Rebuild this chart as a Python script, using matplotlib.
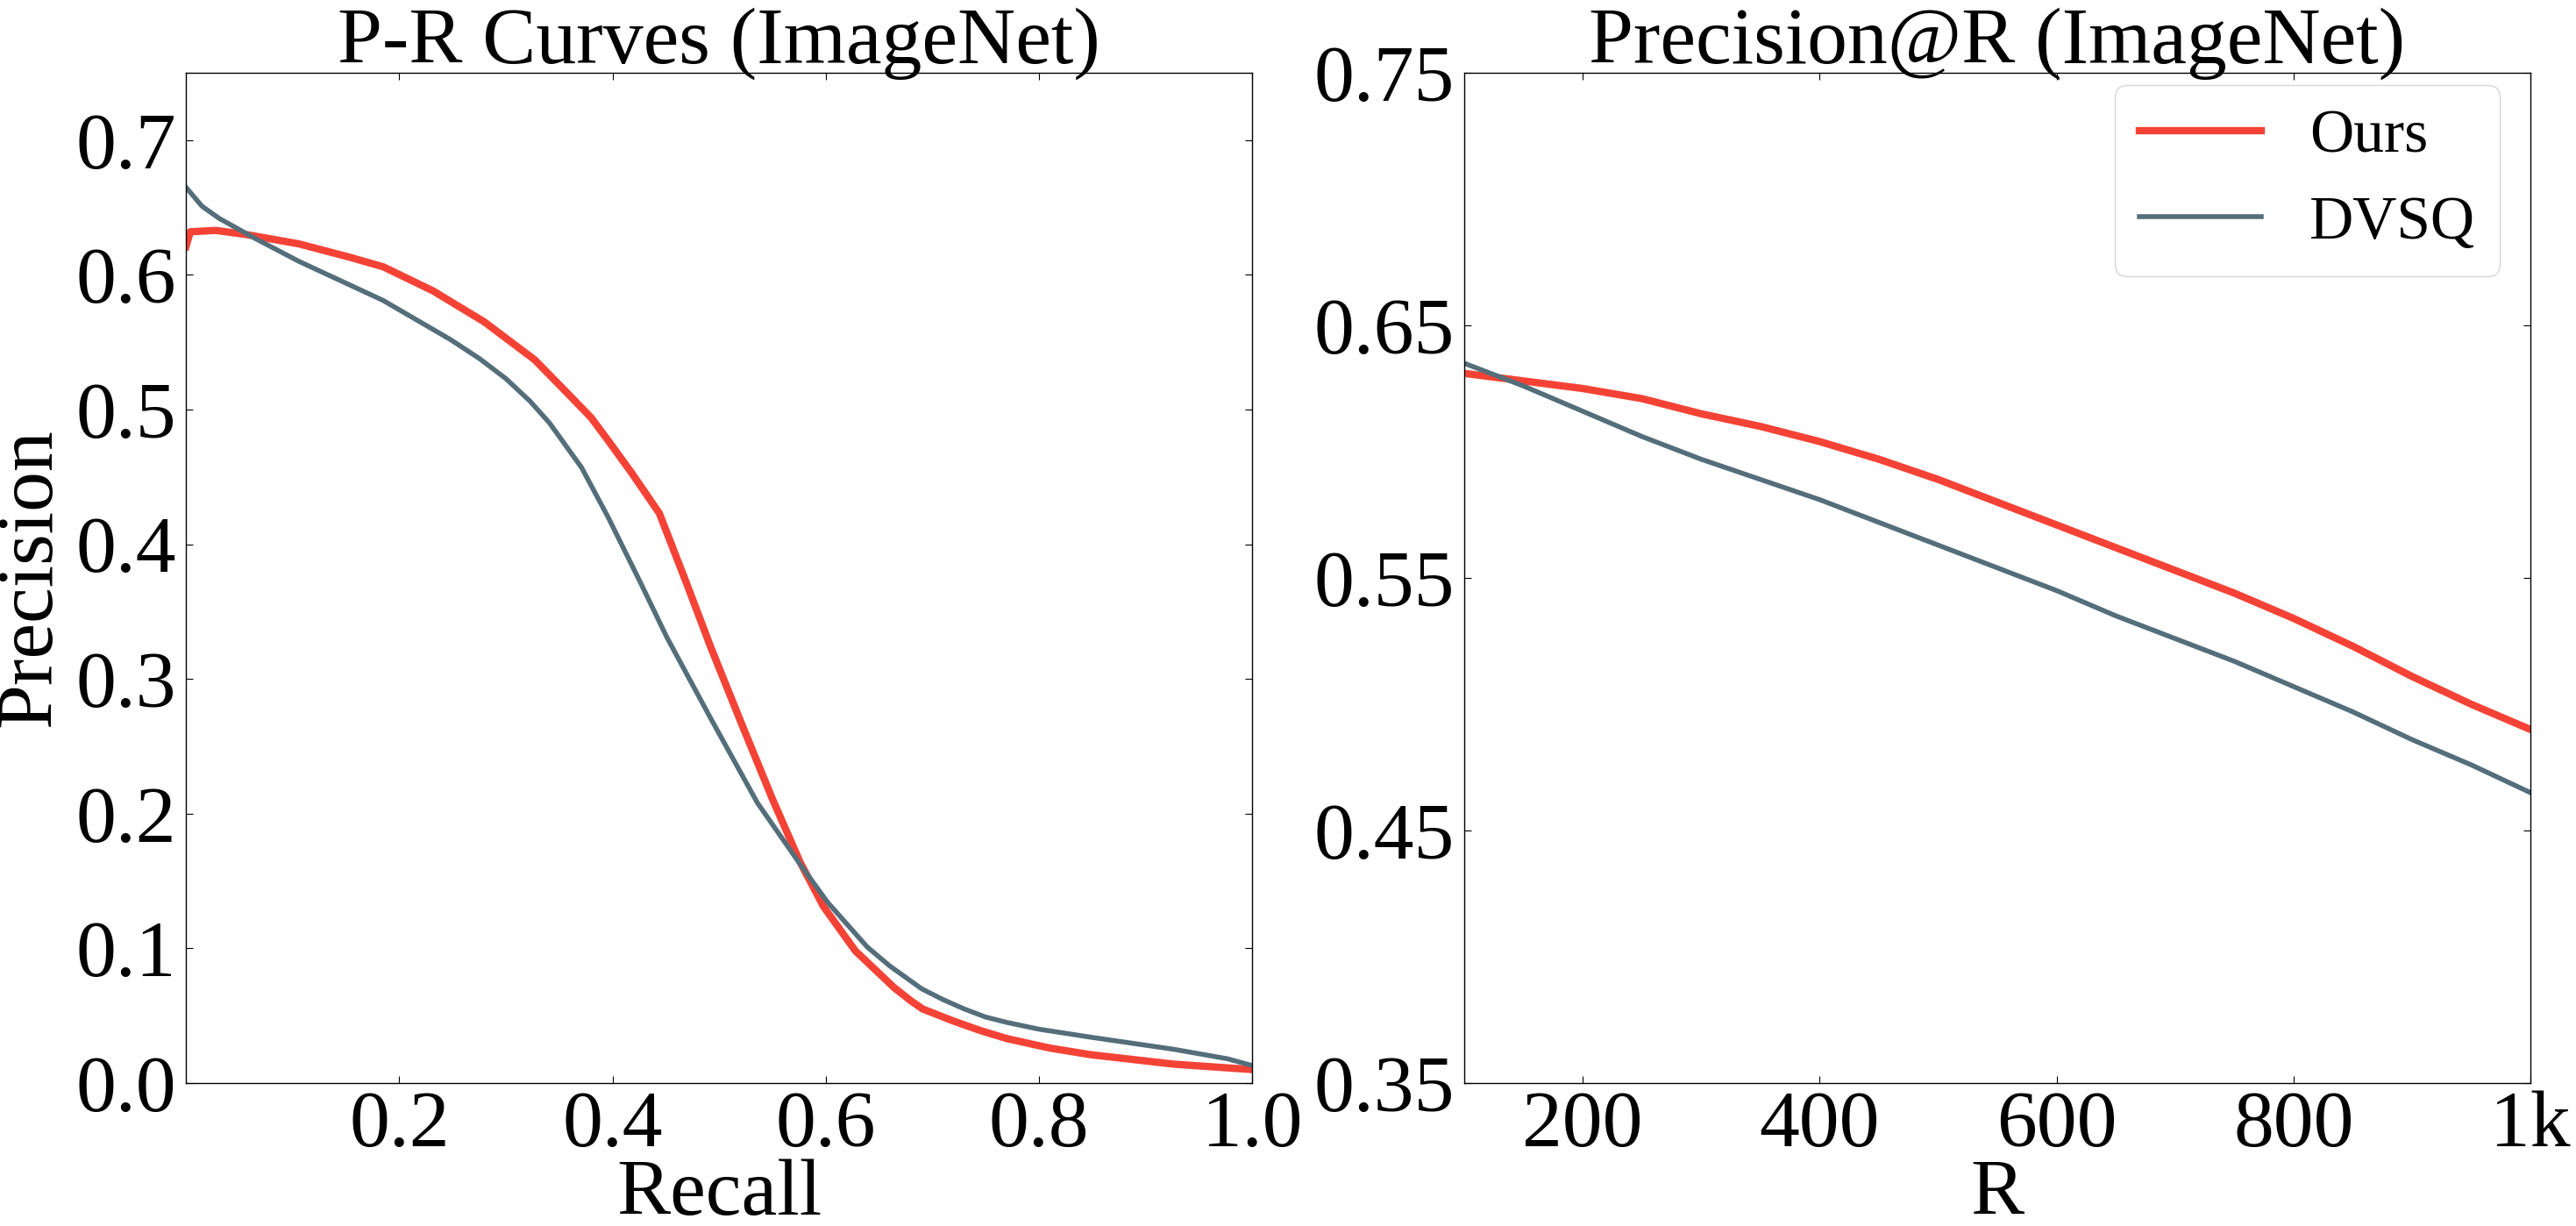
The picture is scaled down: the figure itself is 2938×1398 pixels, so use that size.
import numpy as np
import matplotlib
matplotlib.use("Agg")
import matplotlib.pyplot as plt

plt.rcParams["font.family"] = ["Liberation Serif", "DejaVu Serif"]

RED = "#F44336"
SLATE = "#546E7A"

# P-R curves (ImageNet)
ours_recall = [0.0, 0.004, 0.028, 0.056, 0.106, 0.154, 0.185, 0.232, 0.28, 0.327,
               0.358, 0.38, 0.396, 0.418, 0.444, 0.47, 0.492, 0.521, 0.55, 0.576,
               0.598, 0.628, 0.664, 0.68, 0.691, 0.72, 0.745, 0.77, 0.81, 0.849,
               0.927, 1.0]
ours_precision = [0.621, 0.632, 0.633, 0.630, 0.623, 0.613, 0.606, 0.588, 0.565, 0.537,
                  0.512, 0.494, 0.477, 0.453, 0.423, 0.370, 0.324, 0.267, 0.211, 0.164,
                  0.131, 0.098, 0.071, 0.061, 0.055, 0.046, 0.039, 0.033, 0.026, 0.021,
                  0.014, 0.010]

dvsq_recall = [0.0, 0.015, 0.031, 0.065, 0.106, 0.185, 0.248, 0.275, 0.30, 0.323,
               0.341, 0.371, 0.396, 0.426, 0.451, 0.492, 0.536, 0.58, 0.602, 0.639,
               0.66, 0.69, 0.71, 0.73, 0.75, 0.77, 0.80, 0.849, 0.927, 0.977, 1.0]
dvsq_precision = [0.665, 0.651, 0.642, 0.627, 0.610, 0.581, 0.552, 0.538, 0.523, 0.506,
                  0.490, 0.457, 0.420, 0.372, 0.331, 0.271, 0.208, 0.158, 0.134, 0.101,
                  0.087, 0.070, 0.062, 0.055, 0.049, 0.045, 0.040, 0.034, 0.025, 0.018,
                  0.013]

# Precision@R (ImageNet)
r_values = [100, 150, 200, 250, 300, 350, 400, 450, 500, 550,
            600, 650, 700, 750, 800, 850, 900, 950, 1000]
ours_p_at_r = [0.631, 0.628, 0.625, 0.621, 0.615, 0.610, 0.604, 0.597, 0.589, 0.580,
               0.571, 0.562, 0.553, 0.544, 0.534, 0.523, 0.511, 0.500, 0.490]
dvsq_p_at_r = [0.635, 0.626, 0.616, 0.606, 0.597, 0.589, 0.581, 0.572, 0.563, 0.554,
               0.545, 0.535, 0.526, 0.517, 0.507, 0.497, 0.486, 0.476, 0.465]

FS = 66

fig, axs = plt.subplots(1, 2, figsize=(29.38, 13.98), dpi=100)
plt.subplots_adjust(left=0.0722, right=0.9823, bottom=0.1166, top=0.9406, wspace=0.199)

# left: P-R curves
ax = axs[0]
ax.plot(ours_recall, ours_precision, color=RED, lw=6, label="Ours")
ax.plot(dvsq_recall, dvsq_precision, color=SLATE, lw=4, label="DVSQ")
ax.set_xlim(0, 1.0)
ax.set_ylim(0, 0.75)
ax.set_xticks([0.2, 0.4, 0.6, 0.8, 1.0])
ax.set_xticklabels(["0.2", "0.4", "0.6", "0.8", "1.0"])
ax.set_yticks([0.0, 0.1, 0.2, 0.3, 0.4, 0.5, 0.6, 0.7])
ax.set_yticklabels(["0.0", "0.1", "0.2", "0.3", "0.4", "0.5", "0.6", "0.7"])
ax.set_title("P-R Curves (ImageNet)", fontsize=FS, pad=8)
ax.set_xlabel("Recall", fontsize=FS, labelpad=-3)
ax.set_ylabel("Precision", fontsize=FS, labelpad=7)

# right: precision@R
ax = axs[1]
ax.plot(r_values, ours_p_at_r, color=RED, lw=6, label="Ours")
ax.plot(r_values, dvsq_p_at_r, color=SLATE, lw=4, label="DVSQ")
ax.set_xlim(100, 1000)
ax.set_ylim(0.35, 0.75)
ax.set_xticks([200, 400, 600, 800, 1000])
ax.set_xticklabels(["200", "400", "600", "800", "1k"])
ax.set_yticks([0.35, 0.45, 0.55, 0.65, 0.75])
ax.set_yticklabels(["0.35", "0.45", "0.55", "0.65", "0.75"])
ax.set_title("Precision@R (ImageNet)", fontsize=FS, pad=8)
ax.set_xlabel("R", fontsize=FS, labelpad=-3)
ax.legend(loc="upper right", bbox_to_anchor=(1, 1.018), fontsize=50)

for ax in axs:
    ax.tick_params(axis="both", direction="in", top=True, right=True,
                   length=6, width=0.8, labelsize=FS)
    ax.tick_params(axis="x", pad=6)
    ax.tick_params(axis="y", pad=8)
    for s in ax.spines.values():
        s.set_linewidth(1.0)

fig.savefig("out.png", dpi=100)
